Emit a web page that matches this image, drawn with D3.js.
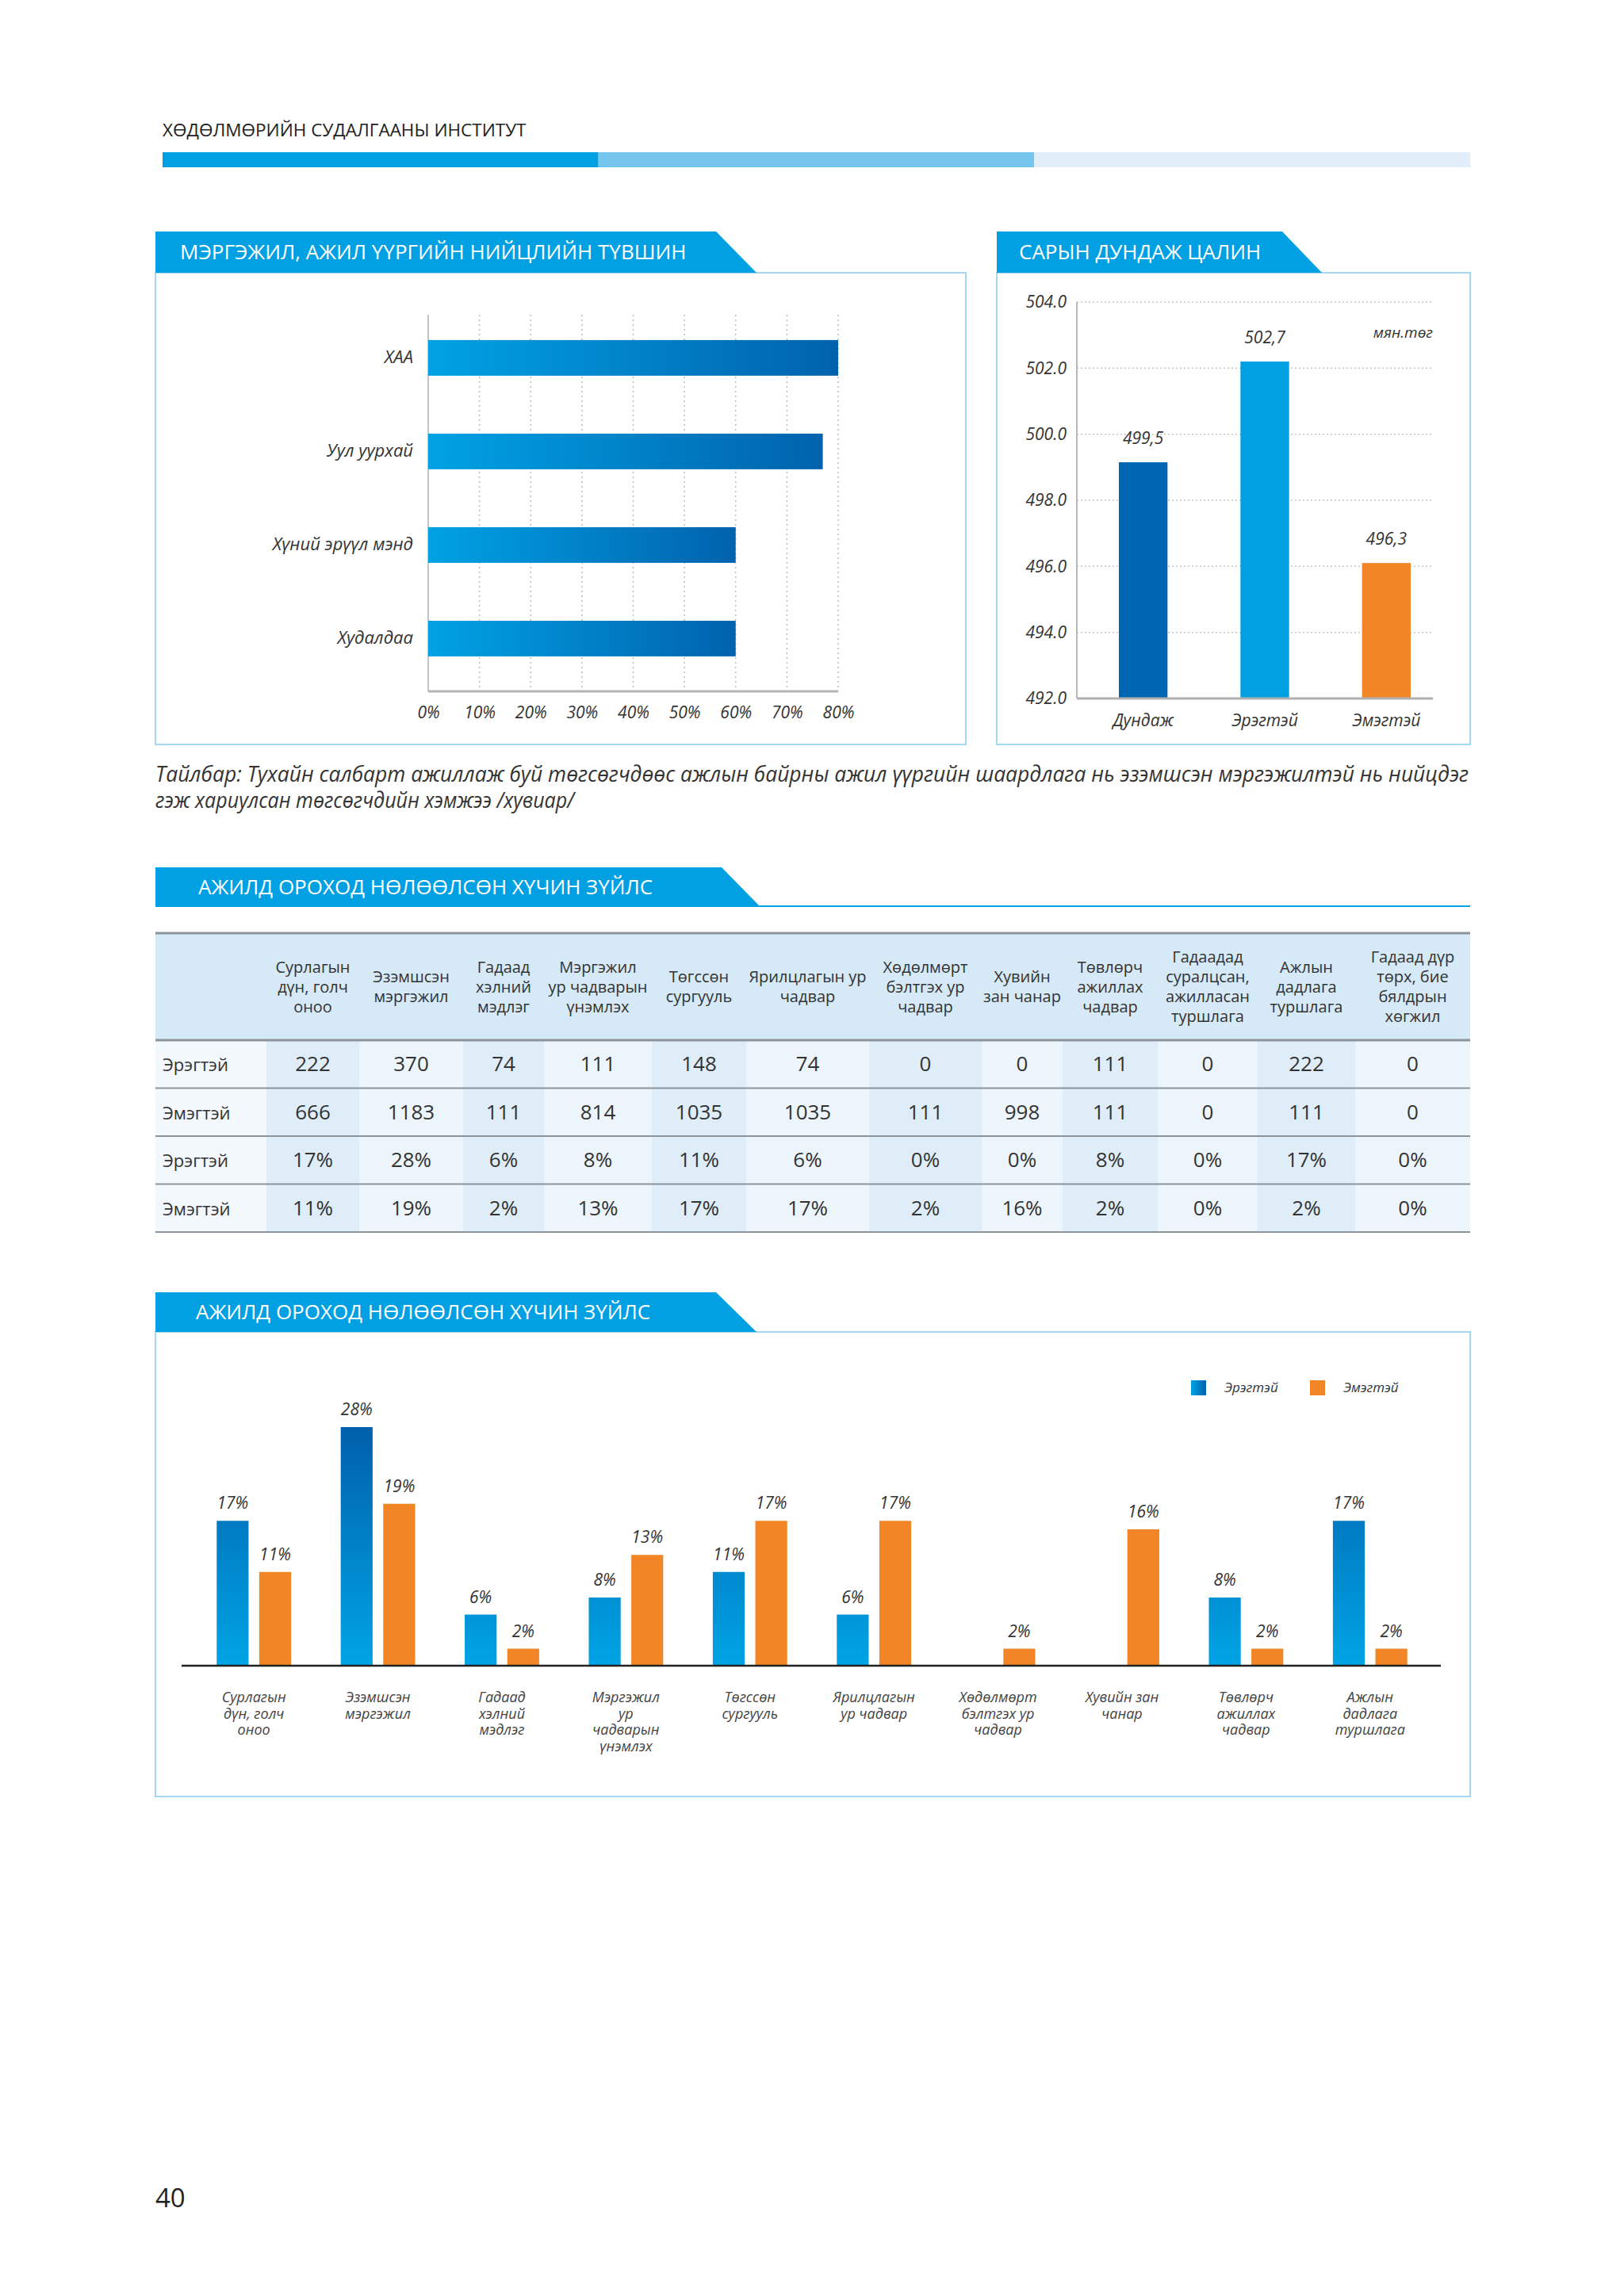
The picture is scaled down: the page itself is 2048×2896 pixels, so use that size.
<!DOCTYPE html>
<html>
<head>
<meta charset="utf-8">
<script src="https://cdn.jsdelivr.net/npm/d3@7/dist/d3.min.js"></script>
<style>
  body { margin: 0; background: #fff; }
  text { font-family: "Open Sans", "Noto Sans", sans-serif; }
</style>
</head>
<body>
<svg id="page"></svg>
<script>
// ---- data ----
var fitCategories = ["ХАА", "Уул уурхай", "Хүний эрүүл мэнд", "Худалдаа"];
var fitValues = [0.80, 0.77, 0.60, 0.60];
var fitTicks = [0, 0.1, 0.2, 0.3, 0.4, 0.5, 0.6, 0.7, 0.8];

var wageCategories = ["Дундаж", "Эрэгтэй", "Эмэгтэй"];
var wageValues = [499.15, 502.2, 496.1];      // bar heights as drawn
var wageLabels = ["499,5", "502,7", "496,3"]; // printed labels
var wageTicks = [492, 494, 496, 498, 500, 502, 504];
var wageColors = ["#0066b3", "#00a0e3", "#f28627"];

var factorHeaders = [
  ["Сурлагын", "дүн, голч", "оноо"],
  ["Эзэмшсэн", "мэргэжил"],
  ["Гадаад", "хэлний", "мэдлэг"],
  ["Мэргэжил", "ур чадварын", "үнэмлэх"],
  ["Төгссөн", "сургууль"],
  ["Ярилцлагын ур", "чадвар"],
  ["Хөдөлмөрт", "бэлтгэх ур", "чадвар"],
  ["Хувийн", "зан чанар"],
  ["Төвлөрч", "ажиллах", "чадвар"],
  ["Гадаадад", "суралцсан,", "ажилласан", "туршлага"],
  ["Ажлын", "дадлага", "туршлага"],
  ["Гадаад дүр", "төрх, бие", "бялдрын", "хөгжил"]
];
var rowLabels = ["Эрэгтэй", "Эмэгтэй", "Эрэгтэй", "Эмэгтэй"];
var maleCounts = [222, 370, 74, 111, 148, 74, 0, 0, 111, 0, 222, 0];
var femaleCounts = [666, 1183, 111, 814, 1035, 1035, 111, 998, 111, 0, 111, 0];
var malePct = [17, 28, 6, 8, 11, 6, 0, 0, 8, 0, 17, 0];
var femalePct = [11, 19, 2, 13, 17, 17, 2, 16, 2, 0, 2, 0];

var chartCategories = [
  ["Сурлагын", "дүн, голч", "оноо"],
  ["Эзэмшсэн", "мэргэжил"],
  ["Гадаад", "хэлний", "мэдлэг"],
  ["Мэргэжил", "ур", "чадварын", "үнэмлэх"],
  ["Төгссөн", "сургууль"],
  ["Ярилцлагын", "ур чадвар"],
  ["Хөдөлмөрт", "бэлтгэх ур", "чадвар"],
  ["Хувийн зан", "чанар"],
  ["Төвлөрч", "ажиллах", "чадвар"],
  ["Ажлын", "дадлага", "туршлага"]
];
var chartMale = [17, 28, 6, 8, 11, 6, 0, 0, 8, 17];
var chartFemale = [11, 19, 2, 13, 17, 17, 2, 16, 2, 2];
var seriesNames = ["Эрэгтэй", "Эмэгтэй"];

// ---- page ----
var svg = d3.select("#page").attr("width", 2048).attr("height", 2896);
svg.append("rect").attr("width", 2048).attr("height", 2896).attr("fill", "#fff");
var defs = svg.append("defs");

var hGrad = defs.append("linearGradient").attr("id", "fitGrad")
  .attr("x1", 0).attr("x2", 1).attr("y1", 0).attr("y2", 0);
hGrad.append("stop").attr("offset", "0%").attr("stop-color", "#00a2e4");
hGrad.append("stop").attr("offset", "100%").attr("stop-color", "#0062ad");

var legGrad = defs.append("linearGradient").attr("id", "legGrad")
  .attr("x1", 0).attr("x2", 1).attr("y1", 0).attr("y2", 0);
legGrad.append("stop").attr("offset", "0%").attr("stop-color", "#00a2e4");
legGrad.append("stop").attr("offset", "100%").attr("stop-color", "#0062ad");

var blue = "#00a0e3", boxLine = "#a6d7f0";

// header
svg.append("text").attr("x", 205).attr("y", 172)
  .attr("font-size", 22.5).attr("fill", "#222")
  .text("ХӨДӨЛМӨРИЙН СУДАЛГААНЫ ИНСТИТУТ");
var bandCols = ["#00a0e2", "#74c6ec", "#e1eef9"];
var bandX = d3.scaleBand().domain(d3.range(3)).range([205, 1854]);
svg.selectAll("rect.band").data(bandCols).enter().append("rect")
  .attr("x", function(d, i) { return bandX(i); })
  .attr("y", 192).attr("width", bandX.bandwidth()).attr("height", 19)
  .attr("fill", function(d) { return d; });

var drawTab = function(x, y, topW, botW, h, label, tx) {
  svg.append("polygon")
    .attr("points", [[x, y], [x + topW, y], [x + botW, y + h], [x, y + h]].join(" "))
    .attr("fill", blue);
  svg.append("text").attr("x", tx).attr("y", y + h / 2 + 9)
    .attr("font-size", 26).attr("fill", "#fff").text(label);
}
var drawBox = function(x, y, w, h) {
  svg.append("rect").attr("x", x).attr("y", y).attr("width", w).attr("height", h)
    .attr("fill", "none").attr("stroke", boxLine).attr("stroke-width", 2);
}

// ---- left: fit level ----
drawBox(196, 344, 1022, 595);
drawTab(196, 292, 707, 758, 52, "МЭРГЭЖИЛ, АЖИЛ ҮҮРГИЙН НИЙЦЛИЙН ТҮВШИН", 227);

var xFit = d3.scaleLinear().domain([0, 0.8]).range([540, 1057]);
var yFit = d3.scaleBand().domain(fitCategories).range([397, 872])
  .paddingInner(0.619).paddingOuter(0.322).align(0.42);

svg.selectAll("line.fitgrid").data(fitTicks.slice(1)).enter().append("line")
  .attr("x1", function(d) { return xFit(d); }).attr("x2", function(d) { return xFit(d); })
  .attr("y1", 397).attr("y2", 872)
  .attr("stroke", "#bdbdbd").attr("stroke-width", 1.5).attr("stroke-dasharray", "2,4");
svg.append("line").attr("x1", 540).attr("x2", 540).attr("y1", 397).attr("y2", 872)
  .attr("stroke", "#c4c4c4").attr("stroke-width", 2);

svg.selectAll("rect.fit").data(fitValues).enter().append("rect")
  .attr("x", xFit(0))
  .attr("y", function(d, i) { return yFit(fitCategories[i]); })
  .attr("width", function(d) { return xFit(d) - xFit(0); })
  .attr("height", yFit.bandwidth())
  .attr("fill", "url(#fitGrad)");

svg.append("line").attr("x1", 540).attr("x2", 1057).attr("y1", 872).attr("y2", 872)
  .attr("stroke", "#b5b5b5").attr("stroke-width", 3);

var fitXAxis = svg.append("g").attr("transform", "translate(0,872)")
  .call(d3.axisBottom(xFit).tickValues(fitTicks).tickFormat(d3.format(".0%")).tickSize(0).tickPadding(19));
fitXAxis.select(".domain").remove();
fitXAxis.selectAll("text").attr("font-size", 21).attr("font-style", "italic")
  .attr("fill", "#333").attr("font-family", "Open Sans");

var fitYAxis = svg.append("g").attr("transform", "translate(540,0)")
  .call(d3.axisLeft(yFit).tickSize(0).tickPadding(19));
fitYAxis.select(".domain").remove();
fitYAxis.selectAll("text").attr("font-size", 22).attr("font-style", "italic")
  .attr("fill", "#333").attr("font-family", "Open Sans");

// ---- right: average wage ----
drawBox(1257, 344, 597, 595);
drawTab(1257, 292, 360, 410, 52, "САРЫН ДУНДАЖ ЦАЛИН", 1285);

var yWage = d3.scaleLinear().domain([492, 504]).range([881, 381]);
var xWage = d3.scaleBand().domain(wageCategories).range([1365, 1825])
  .paddingInner(0.6).paddingOuter(0.3);

svg.selectAll("line.wgrid").data(wageTicks.slice(1)).enter().append("line")
  .attr("x1", 1358).attr("x2", 1807)
  .attr("y1", function(d) { return yWage(d); }).attr("y2", function(d) { return yWage(d); })
  .attr("stroke", "#c4c4c4").attr("stroke-width", 1.5).attr("stroke-dasharray", "2,3");

svg.selectAll("rect.wage").data(wageValues).enter().append("rect")
  .attr("x", function(d, i) { return xWage(wageCategories[i]); })
  .attr("y", function(d) { return yWage(d); })
  .attr("width", xWage.bandwidth())
  .attr("height", function(d) { return yWage(492) - yWage(d); })
  .attr("fill", function(d, i) { return wageColors[i]; });

svg.append("line").attr("x1", 1358).attr("x2", 1358).attr("y1", 381).attr("y2", 881)
  .attr("stroke", "#b8b8b8").attr("stroke-width", 2);
svg.append("line").attr("x1", 1358).attr("x2", 1807).attr("y1", 881).attr("y2", 881)
  .attr("stroke", "#b0b0b0").attr("stroke-width", 3);

var wageAxis = svg.append("g").attr("transform", "translate(1358,0)")
  .call(d3.axisLeft(yWage).tickValues(wageTicks).tickFormat(d3.format(".1f")).tickSize(0).tickPadding(13));
wageAxis.select(".domain").remove();
wageAxis.selectAll("text").attr("font-size", 21).attr("font-style", "italic")
  .attr("fill", "#333").attr("font-family", "DejaVu Sans");

var wageXAxis = svg.append("g").attr("transform", "translate(0,881)")
  .call(d3.axisBottom(xWage).tickSize(0).tickPadding(20));
wageXAxis.select(".domain").remove();
wageXAxis.selectAll("text").attr("font-size", 21).attr("font-style", "italic")
  .attr("fill", "#333").attr("font-family", "DejaVu Sans");

svg.selectAll("text.wlab").data(wageValues).enter().append("text")
  .attr("x", function(d, i) { return xWage(wageCategories[i]) + xWage.bandwidth() / 2; })
  .attr("y", function(d) { return yWage(d) - 23; })
  .attr("text-anchor", "middle").attr("font-size", 21).attr("font-style", "italic")
  .attr("font-family", "DejaVu Sans").attr("fill", "#333")
  .text(function(d, i) { return wageLabels[i]; });
svg.append("text").attr("x", 1807).attr("y", 426).attr("text-anchor", "end")
  .attr("font-size", 19).attr("font-style", "italic").attr("font-family", "DejaVu Sans")
  .attr("fill", "#333").text("мян.төг");

// caption
svg.append("text").attr("x", 196).attr("y", 986).attr("font-size", 26.5)
  .attr("font-style", "italic").attr("fill", "#333")
  .attr("textLength", 1656).attr("lengthAdjust", "spacingAndGlyphs")
  .text("Тайлбар: Тухайн салбарт ажиллаж буй төгсөгчдөөс ажлын байрны ажил үүргийн шаардлага нь эзэмшсэн мэргэжилтэй нь нийцдэг");
svg.append("text").attr("x", 196).attr("y", 1019).attr("font-size", 26.5)
  .attr("font-style", "italic").attr("fill", "#333")
  .attr("textLength", 528).attr("lengthAdjust", "spacingAndGlyphs")
  .text("гэж хариулсан төгсөгчдийн хэмжээ /хувиар/");

// ---- table ----
drawTab(196, 1094, 714, 763, 50, "АЖИЛД ОРОХОД НӨЛӨӨЛСӨН ХҮЧИН ЗҮЙЛС", 250);
svg.append("line").attr("x1", 958).attr("x2", 1854).attr("y1", 1143).attr("y2", 1143)
  .attr("stroke", blue).attr("stroke-width", 2);

var colWidths = [140, 117, 131, 102, 136, 119, 155, 142, 102, 120, 126, 123, 145];
var colX = [196];
colWidths.forEach(function(w, i) { colX.push(colX[i] + w); });
var tableTop = 1177, headH = 135, rowH = 60.5;
var tableRows = [maleCounts, femaleCounts,
  malePct.map(function(v) { return v + "%"; }),
  femalePct.map(function(v) { return v + "%"; })];

svg.append("rect").attr("x", 196).attr("y", tableTop).attr("width", 1658).attr("height", headH)
  .attr("fill", "#d5e9f7");
var body = svg.append("g");
colWidths.forEach(function(w, c) {
  body.append("rect").attr("x", colX[c]).attr("y", tableTop + headH)
    .attr("width", w).attr("height", rowH * 4)
    .attr("fill", c == 0 ? "#f3f8fd" : (c % 2 == 1 ? "#deedf8" : "#edf5fc"));
});

factorHeaders.forEach(function(lines, c) {
  var cx = colX[c + 1] + colWidths[c + 1] / 2;
  var t = svg.append("text").attr("text-anchor", "middle").attr("font-size", 20).attr("fill", "#333");
  var y0 = tableTop + headH / 2 - (lines.length - 1) * 25 / 2 + 7;
  lines.forEach(function(l, k) {
    t.append("tspan").attr("x", cx).attr("y", y0 + k * 25).text(l);
  });
});

tableRows.forEach(function(row, r) {
  var cy = tableTop + headH + rowH * r + rowH / 2 + 9;
  svg.append("text").attr("x", 205).attr("y", cy).attr("font-size", 22).attr("fill", "#333")
    .text(rowLabels[r]);
  svg.selectAll(null).data(row).enter().append("text")
    .attr("x", function(d, c) { return colX[c + 1] + colWidths[c + 1] / 2; })
    .attr("y", cy).attr("text-anchor", "middle").attr("font-size", 26).attr("fill", "#333")
    .text(function(d) { return d; });
});

var hLines = [tableTop, tableTop + headH];
for (var r = 1; r <= 4; r++) hLines.push(tableTop + headH + rowH * r);
svg.selectAll("line.tl").data(hLines).enter().append("line")
  .attr("x1", 196).attr("x2", 1854)
  .attr("y1", function(d) { return d; }).attr("y2", function(d) { return d; })
  .attr("stroke", "#8c949b").attr("stroke-width", function(d, i) { return i < 2 ? 3 : 2; });

// ---- bottom grouped bars ----
drawBox(196, 1680, 1658, 586);
drawTab(196, 1630, 707, 758, 50, "АЖИЛД ОРОХОД НӨЛӨӨЛСӨН ХҮЧИН ЗҮЙЛС", 247);

var vGrad = defs.append("linearGradient").attr("id", "barGrad")
  .attr("gradientUnits", "userSpaceOnUse").attr("x1", 0).attr("x2", 0).attr("y1", 1800).attr("y2", 2101);
vGrad.append("stop").attr("offset", "0%").attr("stop-color", "#005fab");
vGrad.append("stop").attr("offset", "100%").attr("stop-color", "#00a4e5");

var x0 = d3.scaleBand().domain(d3.range(chartCategories.length)).range([242, 1806])
  .paddingInner(0.4).paddingOuter(0.2);
var x1 = d3.scaleBand().domain(seriesNames).range([0, x0.bandwidth()]).paddingInner(0.25);
var yF = d3.scaleLinear().domain([0, 28]).range([2101, 1800]);
var seriesFill = { "Эрэгтэй": "url(#barGrad)", "Эмэгтэй": "#f28627" };

var groups = svg.selectAll("g.grp").data(chartCategories).enter().append("g")
  .attr("transform", function(d, i) { return "translate(" + x0(i) + ",0)"; });
var bars = groups.selectAll("rect").data(function(d, i) {
  return [{ s: seriesNames[0], v: chartMale[i] }, { s: seriesNames[1], v: chartFemale[i] }]
    .filter(function(e) { return e.v > 0; });
}).enter();
bars.append("rect")
  .attr("x", function(d) { return x1(d.s); })
  .attr("y", function(d) { return yF(d.v); })
  .attr("width", x1.bandwidth())
  .attr("height", function(d) { return yF(0) - yF(d.v); })
  .attr("fill", function(d) { return seriesFill[d.s]; });
bars.append("text")
  .attr("x", function(d) { return x1(d.s) + x1.bandwidth() / 2; })
  .attr("y", function(d) { return yF(d.v) - 15; })
  .attr("text-anchor", "middle").attr("font-size", 21).attr("font-style", "italic").attr("fill", "#333")
  .text(function(d) { return d.v + "%"; });

groups.append("text").attr("text-anchor", "middle").attr("font-size", 18)
  .attr("font-style", "italic").attr("fill", "#444")
  .each(function(lines) {
    var t = d3.select(this);
    lines.forEach(function(l, k) {
      t.append("tspan").attr("x", x0.bandwidth() / 2).attr("y", 2147 + k * 20.5).text(l);
    });
  });

svg.append("line").attr("x1", 229).attr("x2", 1817).attr("y1", 2101).attr("y2", 2101)
  .attr("stroke", "#222").attr("stroke-width", 2.5);

var legendX = d3.scalePoint().domain(seriesNames).range([1502, 1652]);
var leg = svg.selectAll("g.leg").data(seriesNames).enter().append("g")
  .attr("transform", function(d) { return "translate(" + legendX(d) + ",1741)"; });
leg.append("rect").attr("width", 19).attr("height", 19)
  .attr("fill", function(d, i) { return i == 0 ? "url(#legGrad)" : "#f28627"; });
leg.append("text").attr("x", 42).attr("y", 15).attr("font-size", 17)
  .attr("font-style", "italic").attr("fill", "#333").text(function(d) { return d; });

// page number
svg.append("text").attr("x", 196).attr("y", 2784).attr("font-size", 33).attr("fill", "#222").text("40");
</script>
</body>
</html>
